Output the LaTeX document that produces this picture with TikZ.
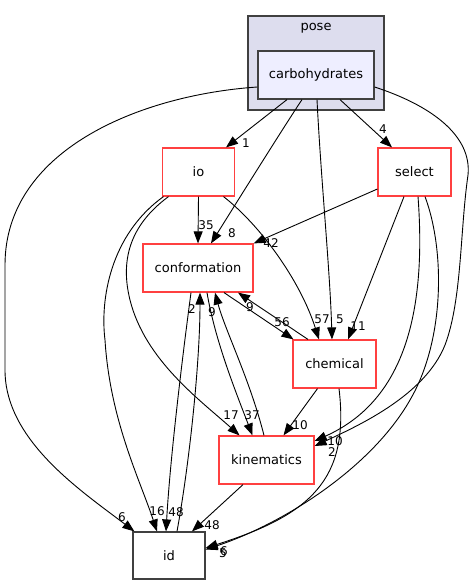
\documentclass[tikz,border=0pt]{standalone}
\usepackage{fontspec}
\setmainfont{DejaVu Sans}
\usetikzlibrary{arrows.meta}
\definecolor{clfill}{HTML}{DDDDEE}
\definecolor{carbfill}{HTML}{EEEEFF}
\definecolor{darkb}{HTML}{404040}
\definecolor{redb}{HTML}{FF4040}
\begin{document}
\begin{tikzpicture}[x=1pt,y=-1pt,
  dnode/.style={draw=redb, line width=1.2pt, fill=white, minimum height=48pt, inner sep=0pt, font=\fontsize{13}{15}\selectfont},
  edge/.style={line width=0.9pt, -{Triangle[length=12pt,width=9pt]}},
  lab/.style={font=\fontsize{12}{14}\selectfont, inner sep=0pt}]
\useasboundingbox (0,0) rectangle (474,585);
% cluster
\node[draw=darkb, fill=clfill, line width=1.2pt, minimum width=136pt, minimum height=94pt, inner sep=0pt] (pose) at (316,63) {};
\node[font=\fontsize{13}{15}\selectfont, inner sep=0pt] (poselab) at (316,28) {pose};
% nodes
\node[dnode, draw=darkb, fill=carbfill, minimum width=116pt] (carb) at (316,75) {carbohydrates};
\node[dnode, minimum width=72pt] (io) at (198.5,172) {io};
\node[dnode, minimum width=110pt] (conf) at (198,268) {conformation};
\node[dnode, minimum width=73pt] (select) at (414.5,172) {select};
\node[dnode, minimum width=83pt] (chem) at (334.5,364) {chemical};
\node[dnode, minimum width=95pt] (kin) at (266.5,460) {kinematics};
\node[dnode, draw=darkb, minimum width=72pt, minimum height=47pt] (id) at (169,555.5) {id};
% edges from carbohydrates
\draw[edge] ([xshift=-29pt]carb.south) -- ([xshift=27.5pt]io.north);
\draw[edge] ([xshift=-14pt]carb.south) .. controls (285,125) and (235,205) .. ([xshift=13pt]conf.north);
\draw[edge] ([xshift=1pt]carb.south) .. controls (321,180) and (330,270) .. ([xshift=-2.5pt]chem.north);
\draw[edge] ([xshift=24pt]carb.south) -- ([xshift=-22.5pt]select.north);
\draw[edge] ([yshift=-12pt]carb.east) .. controls (430,105) and (472,135) .. (468,175) .. controls (460,230) and (462,300) .. (445,345) .. controls (425,395) and (360,425) .. ([yshift=14pt]kin.east);
\draw[edge] ([yshift=-12pt]carb.west) .. controls (140,95) and (5,150) .. (5,265) -- (5,370) .. controls (5,440) and (80,490) .. ([xshift=2pt]id.north west);
% io
\draw[edge] (io.south) -- (conf.north);
\draw[edge] ([xshift=25pt]io.south) .. controls (260,225) and (300,280) .. ([xshift=-15.5pt]chem.north);
\draw[edge] ([xshift=-35pt]io.south) .. controls (110,235) and (100,300) .. (105,340) .. controls (110,420) and (140,480) .. ([xshift=-12pt]id.north);
\draw[edge] ([xshift=-30pt]io.south) .. controls (130,225) and (120,260) .. (130,300) .. controls (145,360) and (200,400) .. ([xshift=-27pt]kin.north);
% conformation
\draw[edge] ([xshift=26pt]conf.south) -- ([xshift=-41pt]chem.north);
\draw[edge] ([xshift=-26.5pt]chem.north) -- ([xshift=40pt]conf.south);
\draw[edge] ([xshift=-7pt]conf.south) .. controls (182,360) and (170,460) .. ([xshift=-3pt]id.north);
\draw[edge] ([xshift=8pt]id.north) .. controls (190,460) and (200,360) .. ([xshift=2pt]conf.south);
\draw[edge] ([xshift=9pt]conf.south) .. controls (215,340) and (235,390) .. ([xshift=-14pt]kin.north);
\draw[edge] ([xshift=-2.5pt]kin.north) .. controls (250,380) and (225,330) .. ([xshift=17pt]conf.south);
% chemical
\draw[edge] ([xshift=-17pt]chem.south) -- ([xshift=17pt]kin.north);
\draw[edge] ([xshift=4.5pt]chem.south) .. controls (350,480) and (310,515) .. ([yshift=7.5pt]id.east);
% select
\draw[edge] ([yshift=-17pt]select.west) -- (conf.north east);
\draw[edge] ([xshift=-10.5pt]select.south) -- ([xshift=13.5pt]chem.north);
\draw[edge] ([xshift=3.5pt]select.south) .. controls (428,330) and (395,405) .. ([yshift=19pt]kin.east);
\draw[edge] ([xshift=10.5pt]select.south) .. controls (445,250) and (445,340) .. (410,400) .. controls (370,470) and (280,525) .. ([yshift=6pt]id.east);
% kinematics
\draw[edge] ([xshift=-23.5pt]kin.south) -- ([xshift=23pt]id.north);
% labels
\node[lab] (l1) at (246,143) {1};
\node[lab] (l8) at (232,233) {8};
\node[lab] (l4) at (383,129) {4};
\node[lab] (l35) at (206,225) {35};
\node[lab] (l42) at (271,243) {42};
\node[lab] (l57) at (322,319) {57};
\node[lab] (l5) at (340,319) {5};
\node[lab] (l11) at (358,326) {11};
\node[lab] (l56) at (282,322) {56};
\node[lab] (l9a) at (250,307) {9};
\node[lab] (l2a) at (192,309) {2};
\node[lab] (l9b) at (212,312) {9};
\node[lab] (l17) at (231,415) {17};
\node[lab] (l37) at (252,415) {37};
\node[lab] (l10a) at (300,425) {10};
\node[lab] (l10b) at (335,441) {10};
\node[lab] (l2b) at (332,452) {2};
\node[lab] (l6a) at (122,517) {6};
\node[lab] (l16) at (157,511) {16};
\node[lab] (l48a) at (176,512) {48};
\node[lab] (l48b) at (212,525) {48};
\node[lab] (l5b) at (223,553) {5};
\node[lab] (l6b) at (224,551) {6};
\end{tikzpicture}
\end{document}
